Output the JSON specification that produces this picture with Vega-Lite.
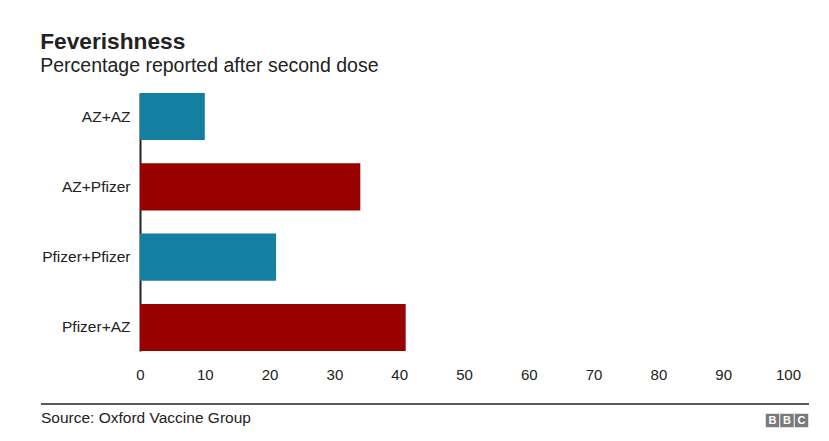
{
  "$schema": "https://vega.github.io/schema/vega-lite/v6.json",
  "padding": {"left": 40, "top": 30, "right": 21, "bottom": 10},
  "title": {
    "text": "Feverishness",
    "subtitle": "Percentage reported after second dose",
    "anchor": "start",
    "fontSize": 22.7,
    "fontWeight": "bold",
    "color": "#222222",
    "subtitleFontSize": 19.5,
    "subtitleColor": "#222222",
    "subtitlePadding": 3,
    "offset": 18
  },
  "spacing": 21,
  "vconcat": [
    {
      "width": 648,
      "height": 258,
      "data": {
        "values": [
          {"combo": "AZ+AZ", "pct": 10, "kind": "same"},
          {"combo": "AZ+Pfizer", "pct": 34, "kind": "mixed"},
          {"combo": "Pfizer+Pfizer", "pct": 21, "kind": "same"},
          {"combo": "Pfizer+AZ", "pct": 41, "kind": "mixed"}
        ]
      },
      "mark": {"type": "bar"},
      "encoding": {
        "y": {
          "field": "combo",
          "type": "nominal",
          "sort": null,
          "title": null,
          "scale": {"paddingInner": 0.33, "paddingOuter": 0},
          "axis": {
            "ticks": false,
            "domainColor": "#222222",
            "domainWidth": 2,
            "labelFontSize": 15.5,
            "labelColor": "#222222",
            "labelPadding": 10,
            "grid": false
          }
        },
        "x": {
          "field": "pct",
          "type": "quantitative",
          "title": null,
          "scale": {"domain": [0, 100], "nice": false},
          "axis": {
            "values": [0, 10, 20, 30, 40, 50, 60, 70, 80, 90, 100],
            "grid": false,
            "domain": false,
            "ticks": false,
            "tickSize": 0,
            "labelFlush": false,
            "labelPadding": 16,
            "labelFontSize": 15,
            "labelColor": "#222222"
          }
        },
        "color": {
          "field": "kind",
          "type": "nominal",
          "scale": {"domain": ["same", "mixed"], "range": ["#1380A1", "#990000"]},
          "legend": null
        }
      }
    },
    {
      "width": 648,
      "height": 19,
      "data": {"values": [{"source": "Source: Oxford Vaccine Group"}]},
      "layer": [
        {
          "mark": {"type": "rule", "color": "#222222", "strokeWidth": 1.5},
          "encoding": {
            "x": {"datum": 0, "type": "quantitative", "scale": {"domain": [0, 1], "range": [-99, 669]}, "axis": null},
            "x2": {"datum": 1},
            "y": {"datum": 1, "type": "quantitative", "scale": {"domain": [0, 1]}, "axis": null}
          }
        },
        {
          "mark": {"type": "text", "align": "left", "baseline": "alphabetic", "fontSize": 15.5, "color": "#222222"},
          "encoding": {
            "x": {"datum": 0, "type": "quantitative"},
            "y": {"datum": 0, "type": "quantitative"},
            "text": {"field": "source"}
          }
        },
        {
          "mark": {"type": "square", "size": 182, "color": "#7a7a7a", "opacity": 1, "xOffset": -36.5, "yOffset": -2.5},
          "encoding": {"x": {"datum": 1, "type": "quantitative"}, "y": {"datum": 0, "type": "quantitative"}}
        },
        {
          "mark": {"type": "square", "size": 182, "color": "#7a7a7a", "opacity": 1, "xOffset": -22, "yOffset": -2.5},
          "encoding": {"x": {"datum": 1, "type": "quantitative"}, "y": {"datum": 0, "type": "quantitative"}}
        },
        {
          "mark": {"type": "square", "size": 182, "color": "#7a7a7a", "opacity": 1, "xOffset": -7.5, "yOffset": -2.5},
          "encoding": {"x": {"datum": 1, "type": "quantitative"}, "y": {"datum": 0, "type": "quantitative"}}
        },
        {
          "mark": {"type": "text", "fontSize": 11, "fontWeight": "bold", "color": "white", "baseline": "middle", "xOffset": -36.5, "yOffset": -2},
          "encoding": {"x": {"datum": 1, "type": "quantitative"}, "y": {"datum": 0, "type": "quantitative"}, "text": {"value": "B"}}
        },
        {
          "mark": {"type": "text", "fontSize": 11, "fontWeight": "bold", "color": "white", "baseline": "middle", "xOffset": -22, "yOffset": -2},
          "encoding": {"x": {"datum": 1, "type": "quantitative"}, "y": {"datum": 0, "type": "quantitative"}, "text": {"value": "B"}}
        },
        {
          "mark": {"type": "text", "fontSize": 11, "fontWeight": "bold", "color": "white", "baseline": "middle", "xOffset": -7.5, "yOffset": -2},
          "encoding": {"x": {"datum": 1, "type": "quantitative"}, "y": {"datum": 0, "type": "quantitative"}, "text": {"value": "C"}}
        }
      ]
    }
  ],
  "config": {
    "font": "Liberation Sans",
    "view": {"stroke": null}
  }
}
